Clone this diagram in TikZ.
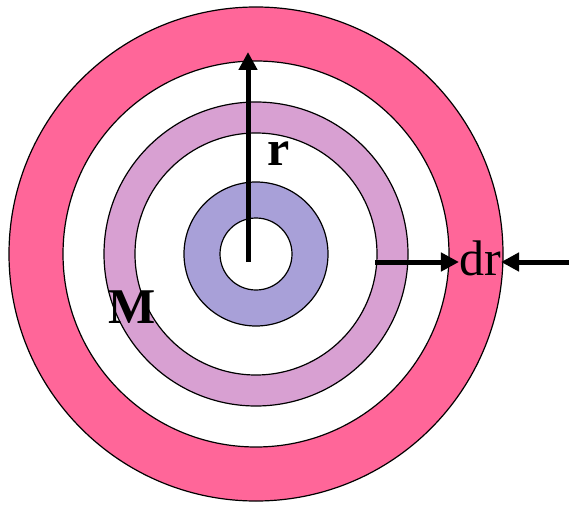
\documentclass[tikz,border=0pt]{standalone}
\usepackage{fontspec}
\setmainfont{Liberation Serif}
\usetikzlibrary{arrows.meta}
\definecolor{pinkring}{RGB}{255,102,153}
\definecolor{plumring}{RGB}{216,160,210}
\definecolor{bluering}{RGB}{168,160,216}
\begin{document}
\begin{tikzpicture}[x=1pt,y=-1pt,
  disc/.style={circle,draw=black,line width=1.2pt,inner sep=0pt,minimum size=#1},
  arr/.style={line width=5pt,-{Triangle[length=18pt,width=18pt]}},
  lbl/.style={font=\fontsize{50}{50}\selectfont,inner sep=0pt}]
\useasboundingbox (0,0) rectangle (569,505);
\node[disc=494pt,fill=pinkring] (outer) at (256,254) {};
\node[disc=386pt,fill=white] (gap1) at (256,254) {};
\node[disc=304pt,fill=plumring] (shell) at (256,254) {};
\node[disc=242pt,fill=white] (gap2) at (256,254) {};
\node[disc=144pt,fill=bluering] (core) at (256,254) {};
\node[disc=72pt,fill=white] (hole) at (256,254) {};
\coordinate (rbase) at (248,262);
\coordinate (rtip) at (248,52);
\draw[arr] (rbase) -- (rtip);
\coordinate (drstart) at (375,262);
\coordinate (drfar) at (569,262);
\node[lbl,anchor=base] (dr) at (480,275) {dr};
\draw[arr] (drstart) -- (drstart -| dr.west);
\draw[arr] (drfar) -- (drfar -| dr.east);
\node[lbl,anchor=base,font=\fontsize{50}{50}\selectfont\bfseries] (rlbl) at (279,165) {r};
\node[lbl,anchor=base,font=\fontsize{50}{50}\selectfont\bfseries] (mlbl) at (132,323) {M};
\end{tikzpicture}
\end{document}
